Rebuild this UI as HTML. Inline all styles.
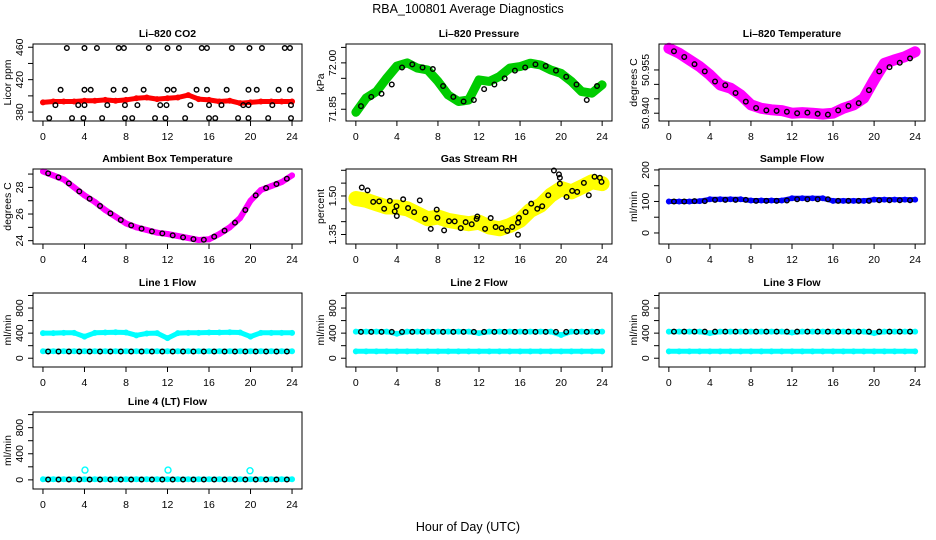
<!DOCTYPE html>
<html><head><meta charset="utf-8"><style>
html,body{margin:0;padding:0;background:#fff;}
svg{display:block;font-family:"Liberation Sans",Arial,sans-serif;}
</style></head><body>
<svg id="c" width="936" height="540" viewBox="0 0 936 540">
<text x="468" y="13" text-anchor="middle" font-size="12.5">RBA_100801  Average Diagnostics</text>
<text x="468" y="531" text-anchor="middle" font-size="12.5">Hour of Day (UTC)</text>
</svg>
<script>
const hours=[0,1,2,3,4,5,6,7,8,9,10,11,12,13,14,15,16,17,18,19,20,21,22,23,24];
const halfHours=[0.5,1.5,2.5,3.5,4.5,5.5,6.5,7.5,8.5,9.5,10.5,11.5,12.5,13.5,14.5,15.5,16.5,17.5,18.5,19.5,20.5,21.5,22.5,23.5];
const xTicks=[0,4,8,12,16,20,24];
// CO2
const co2Red=[392,393,393,393,394,394,395,394,395,397,398,396,397,398,401,396,395,393,394,391,392,393,393,393,393];
const co2BlackT=[2.3,4.0,5.2,7.3,7.8,10.2,12.0,13.1,15.3,15.8,18.2,19.9,21.1,23.3,23.8,1.7,4.0,4.6,6.8,7.9,9.7,12.0,12.6,14.8,15.8,17.7,19.8,20.6,22.7,23.8,1.2,3.4,4.0,6.2,7.9,9.1,11.3,11.9,14.2,16.0,17.2,19.3,19.8,22.1,23.9,0.6,2.8,3.9,5.7,7.9,8.6,10.8,11.8,13.7,16.0,16.6,18.8,19.8,21.7,23.9];
const co2BlackV=[459,459,459,459,459,459,459,459,459,459,459,459,459,459,459,407.5,407.5,407.5,407.5,407.5,407.5,407.5,407.5,407.5,407.5,407.5,407.5,407.5,407.5,407.5,388.6,388.6,388.6,388.6,388.6,388.6,388.6,388.6,388.6,388.6,388.6,388.6,388.6,388.6,388.6,372.6,372.6,372.6,372.6,372.6,372.6,372.6,372.6,372.6,372.6,372.6,372.6,372.6,372.6,372.6];
// Pressure
const presGreen=[71.84,71.886,71.907,71.95,71.99,72.0,71.983,71.977,71.94,71.896,71.875,71.88,71.945,71.94,71.956,71.983,71.988,71.999,71.993,71.977,71.966,71.94,71.907,71.902,71.929];
const presBlack=[71.86,71.89,71.90,71.93,71.985,71.995,71.985,71.98,71.925,71.89,71.875,71.88,71.915,71.93,71.95,71.975,71.985,71.995,71.99,71.975,71.955,71.93,71.88,71.925];
// Li-820 Temperature
const tempMag=[50.9625,50.9608,50.9585,50.9562,50.9533,50.9498,50.9487,50.9463,50.9429,50.9417,50.9412,50.9409,50.940,50.9402,50.940,50.9397,50.940,50.9417,50.9429,50.9452,50.9515,50.9573,50.9585,50.9596,50.9613];
const tempBlack=[50.9615,50.9595,50.957,50.9545,50.951,50.9497,50.947,50.944,50.9418,50.941,50.9408,50.9405,50.940,50.9402,50.9398,50.9395,50.941,50.9425,50.9435,50.948,50.9545,50.956,50.9575,50.959];
// Ambient box temperature
const ambMag=[29.2,28.9,28.6,28.0,27.4,26.9,26.3,25.8,25.3,25.0,24.8,24.6,24.5,24.35,24.2,24.05,24.1,24.5,25.0,25.7,27.0,27.8,28.1,28.4,28.9];
const ambBlack=[29.05,28.75,28.3,27.7,27.15,26.6,26.05,25.55,25.15,24.9,24.7,24.55,24.4,24.25,24.12,24.07,24.3,24.75,25.35,26.3,27.4,27.95,28.25,28.65];
// Gas stream RH
const rhYellow=[1.49,1.483,1.47,1.457,1.457,1.45,1.431,1.411,1.418,1.405,1.398,1.392,1.398,1.379,1.372,1.385,1.405,1.444,1.464,1.503,1.529,1.516,1.535,1.555,1.548];
const rhBlackT=[0.58,1.14,1.69,2.27,2.76,3.31,3.79,3.96,3.99,4.61,5.09,5.68,6.23,6.75,7.30,7.88,7.95,8.60,9.08,9.63,10.22,10.70,11.29,11.77,11.84,12.59,13.14,13.62,14.21,14.76,15.24,15.80,15.89,15.80,16.54,17.09,17.68,18.16,18.75,19.30,19.79,19.88,19.88,20.53,21.08,21.57,22.22,22.70,23.26,23.78,23.94];
const rhBlackV=[1.533,1.522,1.477,1.479,1.450,1.481,1.440,1.460,1.422,1.487,1.453,1.437,1.483,1.411,1.372,1.447,1.415,1.366,1.402,1.401,1.375,1.398,1.390,1.411,1.420,1.372,1.414,1.379,1.375,1.364,1.379,1.396,1.415,1.349,1.437,1.470,1.450,1.460,1.503,1.599,1.584,1.571,1.548,1.496,1.520,1.516,1.551,1.503,1.575,1.571,1.555];
// Sample flow
const sampBlue=[100,100,100,101,107,107,107,107,103,103,103,103,110,110,110,110,102,102,102,102,106,106,106,106,106];
const sampBlack=[100,100,101,101,105,105,105,105,102,102,102,103,107,107,107,107,102,102,102,102,104,104,104,104];
// Line flows
const l1Upper=[400,400,405,405,345,405,410,415,410,365,395,400,320,400,405,405,410,410,415,410,345,405,405,405,405];
const l1Lower=[112,112,112,112,112,112,112,112,112,112,112,112,112,112,112,112,112,112,112,112,112,112,112,112,112];
const l1Black=[108,108,108,108,108,108,108,108,108,108,108,108,108,108,108,108,108,108,108,108,108,108,108,108];
const l2Upper=[425,425,425,425,390,425,425,425,425,425,425,425,400,425,425,425,425,425,425,425,370,425,425,425,425];
const l2Lower=[110,110,110,110,110,110,110,110,110,110,110,110,110,110,110,110,110,110,110,110,110,110,110,110,110];
const l2Black=[420,420,420,420,420,420,420,420,420,420,420,420,420,420,420,420,420,420,420,420,420,420,420,420];
const l3Upper=[425,425,425,425,400,425,425,425,425,425,425,425,410,425,425,425,425,425,425,425,400,425,425,425,425];
const l3Lower=[110,110,110,110,110,110,110,110,110,110,110,110,110,110,110,110,110,110,110,110,110,110,110,110,110];
const l3Black=[425,425,425,425,425,425,425,425,425,425,425,425,425,425,425,425,425,425,425,425,425,425,425,425];
const l4Cyan=[10,10,10,10,10,10,10,10,10,10,10,10,10,10,10,10,10,10,10,10,10,10,10,10,10];
const l4Black=[5,5,5,5,5,5,5,5,5,5,5,5,5,5,5,5,5,5,5,5,5,5,5,5];
const l4OutT=[4.05,12.05,19.95];
const l4OutV=[150,150,140];

const NS='http://www.w3.org/2000/svg';
const svg=document.getElementById('c');
function mk(tag,attrs,parent){const e=document.createElementNS(NS,tag);for(const k in attrs)e.setAttribute(k,attrs[k]);(parent||svg).appendChild(e);return e;}

function panel(p){
  const g=mk('g',{});
  
  
  const xs=t=>p.x0+(t+0.96)/25.92*(p.x1-p.x0);
  const ys=v=>p.y1-(v-p.ylim[0])/(p.ylim[1]-p.ylim[0])*(p.y1-p.y0);
  const tt=mk('text',{x:(p.x0+p.x1)/2,y:p.y0-7,'text-anchor':'middle','font-size':10.5,'font-weight':'bold'},g);
  tt.textContent=p.title;
  
  
  // x axis
  const xa=mk('g',{},g);
  
  
  xTicks.forEach(t=>{
    mk('line',{x1:xs(t),x2:xs(t),y1:p.y1,y2:p.y1+5,stroke:'#000'},xa);
    const l=mk('text',{x:xs(t),y:p.y1+19,'text-anchor':'middle','font-size':10.5},xa);
    l.textContent=t;
    
    
  });
  // y axis
  const ya=mk('g',{},g);
  
  
  const ax=p.x0;
  p.yticks.forEach(v=>{mk('line',{x1:ax,x2:ax-5,y1:ys(v),y2:ys(v),stroke:'#000'},ya);});
  p.ylabels.forEach((v,i)=>{
    const y=ys(v), lx=ax-10;
    const l=mk('text',{x:lx,y:y,'text-anchor':'middle','font-size':10.5,transform:`rotate(-90 ${lx} ${y})`},ya);
    l.textContent=p.ylabelText?p.ylabelText[i]:v;
    
    
  });
  const qx=ax-22;
  const yl=mk('text',{x:qx,y:(p.y0+p.y1)/2,'text-anchor':'middle','font-size':10.5,transform:`rotate(-90 ${qx} ${(p.y0+p.y1)/2})`},ya);
  yl.textContent=p.ylab;
  
  
  // series
  p.series.forEach(s=>{
    const sg=mk('g',{},g);
    
    
    if(s.band){
      const d=s.t.map((t,i)=>(i?'L':'M')+xs(t).toFixed(1)+','+ys(s.v[i]).toFixed(1)).join('');
      mk('path',{d:d,fill:'none',stroke:s.color,'stroke-width':s.w||5,'stroke-linecap':'round','stroke-linejoin':'round'},sg);
    }
    s.t.forEach((t,i)=>{
      const c=mk('circle',{cx:xs(t),cy:ys(s.v[i]),r:s.r||2.3,fill:'none',stroke:s.pc||s.color,'stroke-width':s.sw||1.4},sg);
      
      
    });
  });
  const box=mk('rect',{x:p.x0,y:p.y0,width:p.x1-p.x0,height:p.y1-p.y0,fill:'none',stroke:'#000','stroke-width':1},g);
  
  
}
const C1=[33,302],C2=[346,612],C3=[659,925];
const R1=[44,121],R2=[169,244],R3=[293,367],R4=[412,489];
const flowY=[-140,1040],flowT=[0,200,400,600,800,1000],flowL=[0,400,800];
panel({name:'co2',title:'Li\u2013820 CO2',x0:C1[0],x1:C1[1],y0:R1[0],y1:R1[1],ylim:[369,464],yticks:[380,400,420,440,460],ylabels:[380,420,460],ylab:'Licor ppm',
 series:[{name:'co2-red-series',t:hours,v:co2Red,color:'#f00',band:true,w:5},{name:'co2-black-points',t:co2BlackT,v:co2BlackV,color:'#000'}]});
panel({name:'pressure',title:'Li\u2013820 Pressure',x0:C2[0],x1:C2[1],y0:R1[0],y1:R1[1],ylim:[71.812,72.061],yticks:[71.85,71.9,71.95,72.0,72.05],ylabels:[71.85,72.0],ylabelText:['71.85','72.00'],ylab:'kPa',
 series:[{name:'pressure-green-series',t:hours,v:presGreen,color:'#00cc00',band:true,w:9},{name:'pressure-black-points',t:halfHours,v:presBlack,color:'#000'}]});
panel({name:'li820-temp',title:'Li\u2013820 Temperature',x0:C3[0],x1:C3[1],y0:R1[0],y1:R1[1],ylim:[50.9373,50.964],yticks:[50.94,50.945,50.95,50.955],ylabels:[50.94,50.955],ylabelText:['50.940','50.955'],ylab:'degrees C',
 series:[{name:'temp-magenta-series',t:hours,v:tempMag,color:'#f0f',band:true,w:11},{name:'temp-black-points',t:halfHours,v:tempBlack,color:'#000'}]});
panel({name:'ambient',title:'Ambient Box Temperature',x0:C1[0],x1:C1[1],y0:R2[0],y1:R2[1],ylim:[23.75,29.38],yticks:[24,25,26,27,28,29],ylabels:[24,26,28],ylab:'degrees C',
 series:[{name:'ambient-magenta-series',t:hours,v:ambMag,color:'#f0f',band:true,w:6},{name:'ambient-black-points',t:halfHours,v:ambBlack,color:'#000'}]});
panel({name:'rh',title:'Gas Stream RH',x0:C2[0],x1:C2[1],y0:R2[0],y1:R2[1],ylim:[1.313,1.605],yticks:[1.35,1.4,1.45,1.5,1.55,1.6],ylabels:[1.35,1.5],ylabelText:['1.35','1.50'],ylab:'percent',
 series:[{name:'rh-yellow-series',t:hours,v:rhYellow,color:'#ff0',band:true,w:15},{name:'rh-black-points',t:rhBlackT,v:rhBlackV,color:'#000'}]});
panel({name:'sample-flow',title:'Sample Flow',x0:C3[0],x1:C3[1],y0:R2[0],y1:R2[1],ylim:[-35,203],yticks:[0,50,100,150,200],ylabels:[0,100,200],ylab:'ml/min',
 series:[{name:'sample-blue-series',t:hours,v:sampBlue,color:'#00f',band:true,w:5},{name:'sample-black-points',t:halfHours,v:sampBlack,color:'#000'}]});
panel({name:'line1-flow',title:'Line 1 Flow',x0:C1[0],x1:C1[1],y0:R3[0],y1:R3[1],ylim:flowY,yticks:flowT,ylabels:flowL,ylab:'ml/min',
 series:[{name:'line1-upper-cyan',t:hours,v:l1Upper,color:'#0ff',band:true},{name:'line1-lower-cyan',t:hours,v:l1Lower,color:'#0ff',band:true},{name:'line1-black-points',t:halfHours,v:l1Black,color:'#000'}]});
panel({name:'line2-flow',title:'Line 2 Flow',x0:C2[0],x1:C2[1],y0:R3[0],y1:R3[1],ylim:flowY,yticks:flowT,ylabels:flowL,ylab:'ml/min',
 series:[{name:'line2-upper-cyan',t:hours,v:l2Upper,color:'#0ff',band:true},{name:'line2-lower-cyan',t:hours,v:l2Lower,color:'#0ff',band:true},{name:'line2-black-points',t:halfHours,v:l2Black,color:'#000'}]});
panel({name:'line3-flow',title:'Line 3 Flow',x0:C3[0],x1:C3[1],y0:R3[0],y1:R3[1],ylim:flowY,yticks:flowT,ylabels:flowL,ylab:'ml/min',
 series:[{name:'line3-upper-cyan',t:hours,v:l3Upper,color:'#0ff',band:true},{name:'line3-lower-cyan',t:hours,v:l3Lower,color:'#0ff',band:true},{name:'line3-black-points',t:halfHours,v:l3Black,color:'#000'}]});
panel({name:'line4-flow',title:'Line 4 (LT) Flow',x0:C1[0],x1:C1[1],y0:R4[0],y1:R4[1],ylim:flowY,yticks:flowT,ylabels:flowL,ylab:'ml/min',
 series:[{name:'line4-cyan-series',t:hours,v:l4Cyan,color:'#0ff',band:true},{name:'line4-black-points',t:halfHours,v:l4Black,color:'#000'},{name:'line4-cyan-outliers',t:l4OutT,v:l4OutV,color:'#0ff',r:3}]});
</script>
</body></html>
